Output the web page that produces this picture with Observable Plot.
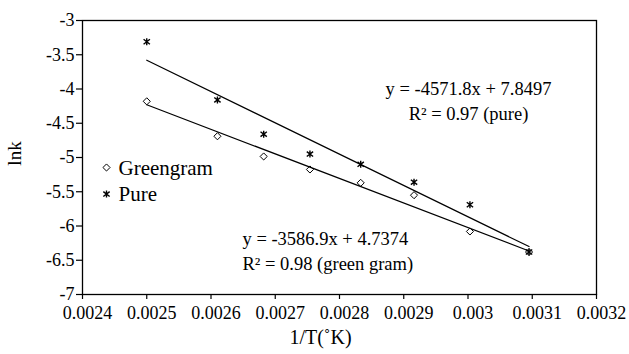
<!DOCTYPE html>
<html><head><meta charset="utf-8">
<script src="https://cdn.jsdelivr.net/npm/d3@7"></script>
<script src="https://cdn.jsdelivr.net/npm/@observablehq/plot@0.6"></script>
<style>body{margin:0;background:#fff}</style>
</head><body><div id="chart"></div>
<script>
// ---- data ----
const invT = [0.0025, 0.00261, 0.002682, 0.002754, 0.002833, 0.002916, 0.003003, 0.003095];
const lnkPure = [-3.31, -4.16, -4.66, -4.95, -5.10, -5.36, -5.69, -6.38];
const lnkGreen = [-4.18, -4.69, -4.985, -5.175, -5.37, -5.55, -6.08, -6.38];
const seriesNames = ["Greengram", "Pure"];
const slopes = [-3586.9, -4571.8];
const intercepts = [4.7374, 7.8497];
const eqLabels = ["y = -3586.9x + 4.7374", "y = -4571.8x + 7.8497"];
const r2Labels = ["R² = 0.98 (green gram)", "R² = 0.97 (pure)"];
const xTicks = [0.0024, 0.0025, 0.0026, 0.0027, 0.0028, 0.0029, 0.003, 0.0031, 0.0032];
const yTicks = [-7, -6.5, -6, -5.5, -5, -4.5, -4, -3.5, -3];
const xTitle = "1/T(˚K)";
const yTitle = "lnk";

const seriesValues = [lnkGreen, lnkPure];
const points = seriesNames.flatMap((s, i) => invT.map((x, j) => ({series: s, x, y: seriesValues[i][j]})));
const xMin = d3.min(invT), xMax = d3.max(invT);
const fits = seriesNames.flatMap((s, i) => [xMin, xMax].map(x => ({series: s, x, y: slopes[i] * x + intercepts[i]})));

// custom asterisk: vertical bar + X
const asterisk = {
  draw(ctx, size) {
    const s = Math.sqrt(size / Math.PI) * 1.1;
    ctx.moveTo(0, -s); ctx.lineTo(0, s);
    ctx.moveTo(-s * 0.9, -s * 0.7); ctx.lineTo(s * 0.9, s * 0.7);
    ctx.moveTo(-s * 0.9, s * 0.7); ctx.lineTo(s * 0.9, -s * 0.7);
  }
};
const symbols = {Greengram: "diamond2", Pure: asterisk};
const strokeW = {Greengram: 1, Pure: 1.4};

const F = "Liberation Serif, Times New Roman, serif";

const chart = Plot.plot({
  width: 629,
  height: 354,
  marginLeft: 82,
  marginRight: 33,
  marginTop: 20,
  marginBottom: 60,
  style: {fontFamily: F, background: "#fff", color: "#000"},
  x: {domain: [0.0024, 0.0032]},
  y: {domain: [-7, -3]},
  marks: [
    Plot.axisX({ticks: xTicks, text: null, tickSize: 5, label: null, stroke: "#000", strokeWidth: 1.2}),
    Plot.axisX({ticks: xTicks, tickFormat: d => String(d), tickSize: 0, tickPadding: 12, dx: 5, fontSize: 18, label: null}),
    Plot.axisY({ticks: yTicks, tickFormat: d => String(d), tickSize: 6, tickPadding: 2, fontSize: 18, label: null, stroke: "#000", strokeWidth: 1.2}),
    Plot.frame({stroke: "#000", strokeWidth: 1.3}),
    Plot.line(fits, {x: "x", y: "y", z: "series", stroke: "#000", strokeWidth: 1.2}),
    ...seriesNames.map(s => Plot.dot(points.filter(d => d.series === s), {x: "x", y: "y", symbol: () => symbols[s], r: 3.2, stroke: "#000", strokeWidth: strokeW[s], fill: "none"})),
    // legend
    ...seriesNames.map((s, i) => Plot.dot([s], {frameAnchor: "top-left", dx: 24, dy: 147 + i * 26.6, symbol: () => symbols[s], r: 3.2, stroke: "#000", strokeWidth: strokeW[s], fill: "none"})),
    ...seriesNames.map((s, i) => Plot.text([s], {frameAnchor: "top-left", dx: 36, dy: 154 + i * 26, text: d => d, textAnchor: "start", lineAnchor: "bottom", fontSize: 21, fill: "#000"})),
    // equations
    Plot.text([eqLabels[1]], {frameAnchor: "top-left", dx: 386, dy: 74, text: d => d, textAnchor: "middle", lineAnchor: "bottom", fontSize: 18.5, fill: "#000"}),
    Plot.text([r2Labels[1]], {frameAnchor: "top-left", dx: 386, dy: 99.5, text: d => d, textAnchor: "middle", lineAnchor: "bottom", fontSize: 18.5, fill: "#000"}),
    Plot.text([eqLabels[0]], {frameAnchor: "top-left", dx: 160, dy: 224, text: d => d, textAnchor: "start", lineAnchor: "bottom", fontSize: 18.5, fill: "#000"}),
    Plot.text([r2Labels[0]], {frameAnchor: "top-left", dx: 160, dy: 249, text: d => d, textAnchor: "start", lineAnchor: "bottom", fontSize: 18.5, fill: "#000"}),
    // axis titles
    Plot.text([xTitle], {frameAnchor: "bottom", dx: -19, dy: 49, text: d => d, textAnchor: "middle", lineAnchor: "bottom", fontSize: 20, fill: "#000"}),
    Plot.text([yTitle], {frameAnchor: "left", dx: -62, dy: -4, text: d => d, rotate: -90, textAnchor: "middle", lineAnchor: "bottom", fontSize: 19, fill: "#000"})
  ]
});
document.getElementById("chart").appendChild(chart);
</script>
</body></html>
